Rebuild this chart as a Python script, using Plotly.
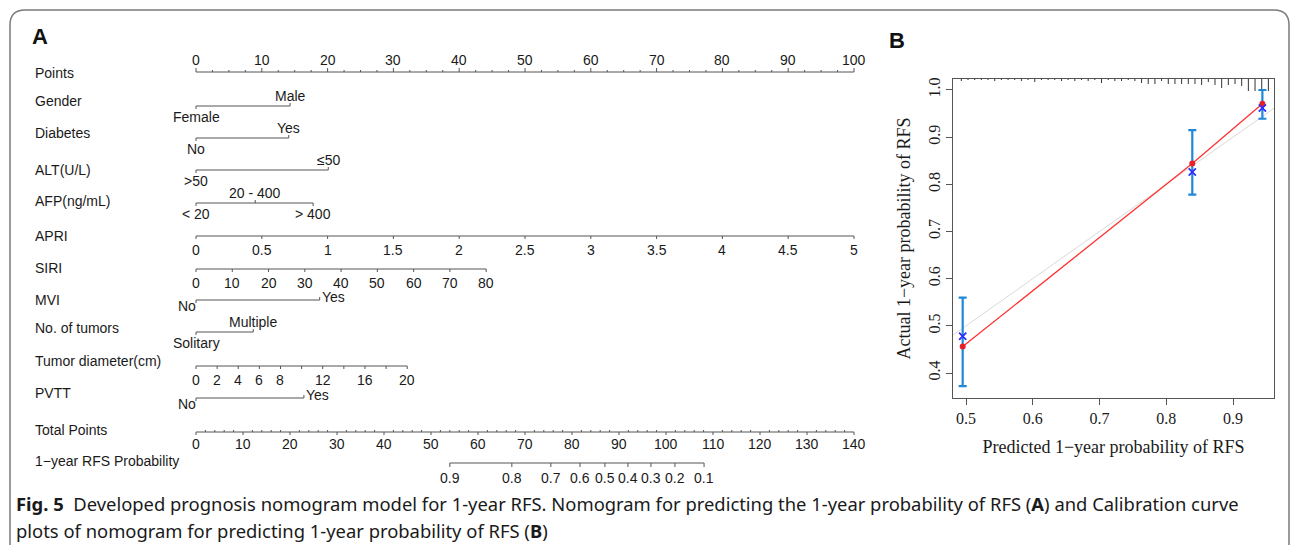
import plotly.graph_objects as go

W, H = 1295, 545

# ---------------- panel A: nomogram ----------------
points_ticks = [0, 10, 20, 30, 40, 50, 60, 70, 80, 90, 100]

gender_pts = [0, 14.3]
gender_lab = ["Female", "Male"]
diabetes_pts = [0, 14.1]
diabetes_lab = ["No", "Yes"]
alt_pts = [0, 20.1]
alt_lab = [">50", "≤50"]
afp_pts = [0, 9.0, 17.8]
afp_lab = ["< 20", "20 - 400", "> 400"]
apri_vals = [0, 0.5, 1, 1.5, 2, 2.5, 3, 3.5, 4, 4.5, 5]
apri_max, apri_max_pts = 5, 100
siri_vals = [0, 10, 20, 30, 40, 50, 60, 70, 80]
siri_max, siri_max_pts = 80, 44.1
mvi_pts = [0, 18.8]
mvi_lab = ["No", "Yes"]
tumors_pts = [0, 8.7]
tumors_lab = ["Solitary", "Multiple"]
diam_ticks = [0, 2, 4, 6, 8, 10, 12, 14, 16, 18, 20]
diam_labels = [0, 2, 4, 6, 8, 12, 16, 20]
diam_max, diam_max_pts = 20, 32.1
pvtt_pts = [0, 16.4]
pvtt_lab = ["No", "Yes"]
total_ticks = [0, 10, 20, 30, 40, 50, 60, 70, 80, 90, 100, 110, 120, 130, 140]
total_max = 140
rfs_prob = ["0.9", "0.8", "0.7", "0.6", "0.5", "0.4", "0.3", "0.2", "0.1"]
rfs_total = [54.0, 67.2, 75.5, 81.7, 87.0, 91.9, 96.8, 101.9, 108.1]

row_names = ["Points", "Gender", "Diabetes", "ALT(U/L)", "AFP(ng/mL)", "APRI", "SIRI", "MVI",
             "No. of tumors", "Tumor diameter(cm)", "PVTT", "Total Points", "1\u2212year RFS Probability"]
row_label_y = [73, 101, 133, 170, 201, 236, 268, 300, 328, 361, 393, 430, 461]
row_line_y = [72, 106, 138, 170, 203, 236, 269, 300, 332, 366, 398, 432, 463]

# ---------------- panel B: calibration ----------------
pred = [0.495, 0.839, 0.944]
obs = [0.456, 0.844, 0.971]
corrected = [0.478, 0.826, 0.962]
ci_hi = [0.560, 0.915, 1.000]
ci_lo = [0.372, 0.778, 0.939]
rug_x = [0.493, 0.503, 0.513, 0.523, 0.533, 0.543, 0.553, 0.563, 0.573, 0.583, 0.593, 0.603,
         0.613, 0.623, 0.633, 0.643, 0.653, 0.663, 0.673, 0.683, 0.693, 0.703, 0.713, 0.723,
         0.733, 0.743, 0.753, 0.763, 0.773, 0.783, 0.793, 0.803, 0.813, 0.823, 0.833, 0.843,
         0.853, 0.863, 0.873, 0.883, 0.893, 0.903, 0.913, 0.923, 0.933, 0.943, 0.953]
rug_n = [2, 1, 1, 1, 1, 2, 1, 1, 1, 2, 1, 3,
         1, 1, 1, 2, 1, 2, 1, 2, 1, 4, 1, 2,
         2, 1, 2, 4, 5, 5, 2, 5, 5, 5, 5, 5,
         6, 3, 6, 9, 6, 5, 7, 12, 12, 12, 12]

xr2 = [0.4805, 0.9614]
yr2 = [0.347, 1.0233]

TXT = dict(family="Liberation Sans, Arial", size=14, color="#1a1a1a")
SERIF_T = dict(family="Liberation Serif, Times New Roman", size=16, color="#1a1a1a")
SERIF = dict(family="Liberation Serif, Times New Roman", size=18, color="#1a1a1a")
LINE_C = "#555555"

fig = go.Figure()
annots = []


def seg_trace(xs, ys, color=LINE_C, width=1, xa="x", ya="y"):
    fig.add_trace(go.Scatter(x=xs, y=ys, mode="lines", line=dict(color=color, width=width),
                             xaxis=xa, yaxis=ya, hoverinfo="skip", showlegend=False))


def ticks(xs, y0, lens):
    X, Y = [], []
    for x, L in zip(xs, lens):
        X += [x, x, None]
        Y += [y0, y0 + L, None]
    seg_trace(X, Y)


def label(x, y, text, xanchor="center", xshift=0, font=TXT):
    annots.append(dict(x=x, y=y, xref="x", yref="y", text=text, showarrow=False,
                       xanchor=xanchor, yanchor="middle", xshift=xshift, font=font))


# row names
for name, ly in zip(row_names, row_label_y):
    annots.append(dict(x=33 / W, y=1 - ly / H, xref="paper", yref="paper", text=name,
                       showarrow=False, xanchor="left", yanchor="middle", font=TXT))

# Points axis
y = row_line_y[0]
seg_trace([0, 100], [y, y])
minor = [i * 2.5 for i in range(41)]
ticks(minor, y, [-4 if m % 10 == 0 else -2 for m in minor])
for t in points_ticks:
    label(t, y - 12, str(t))


def categorical(pts, labs, y, up_idx):
    seg_trace([min(pts), max(pts)], [y, y])
    ticks(pts, y, [-3 if i in up_idx else 3 for i in range(len(pts))])
    for i, (p, l) in enumerate(zip(pts, labs)):
        label(p, y - 10 if i in up_idx else y + 11, l)


categorical(gender_pts, gender_lab, row_line_y[1], [1])
categorical(diabetes_pts, diabetes_lab, row_line_y[2], [1])
categorical(alt_pts, alt_lab, row_line_y[3], [1])
categorical(afp_pts, afp_lab, row_line_y[4], [1])
categorical(tumors_pts, tumors_lab, row_line_y[8], [1])


def side_labels(pts, labs, y):
    seg_trace([pts[0], pts[1]], [y, y])
    ticks(pts, y, [3, -3])
    label(pts[0], y + 6, labs[0], xanchor="right", xshift=2)
    label(pts[1], y - 3, labs[1], xanchor="left", xshift=0)


side_labels(mvi_pts, mvi_lab, row_line_y[7])
side_labels(pvtt_pts, pvtt_lab, row_line_y[10])


def continuous(vals, vmax, pmax, y, shown=None, tick_vals=None):
    sc = pmax / vmax
    tv = tick_vals if tick_vals is not None else vals
    seg_trace([0, vmax * sc], [y, y])
    ticks([v * sc for v in tv], y, [3] * len(tv))
    for v in (shown if shown is not None else vals):
        label(v * sc, y + 14, f"{v:g}")


continuous(apri_vals, apri_max, apri_max_pts, row_line_y[5])
continuous(siri_vals, siri_max, siri_max_pts, row_line_y[6])
continuous(diam_ticks, diam_max, diam_max_pts, row_line_y[9], shown=diam_labels)

# Total points
y = row_line_y[11]
tsc = 100 / total_max
seg_trace([0, 100], [y, y])
tminor = [i * 2 for i in range(71) if (i * 2) % 10]
ticks([m * tsc for m in tminor], y, [-2] * len(tminor))
ticks([t * tsc for t in total_ticks], y, [3] * len(total_ticks))
for t in total_ticks:
    label(t * tsc, y + 12, str(t))

# probability
y = row_line_y[12]
seg_trace([rfs_total[0] * tsc, rfs_total[-1] * tsc], [y, y])
ticks([t * tsc for t in rfs_total], y, [4] * len(rfs_total))
for p, t in zip(rfs_prob, rfs_total):
    label(t * tsc, y + 15, p)

# panel letters
annots.append(dict(x=30 / W, y=1 - 37 / H, xref="paper", yref="paper", text="<b>A</b>", showarrow=False,
                   xanchor="left", yanchor="middle", font=dict(family="Liberation Sans, Arial", size=22, color="#111")))
annots.append(dict(x=887 / W, y=1 - 40 / H, xref="paper", yref="paper", text="<b>B</b>", showarrow=False,
                   xanchor="left", yanchor="middle", font=dict(family="Liberation Sans, Arial", size=22, color="#111")))

# ---- panel B traces ----
seg_trace(xr2, xr2, color="#d9d9d9", width=1, xa="x2", ya="y2")
RX, RY = [], []
ypx = (yr2[1] - yr2[0]) / (398 - 79)
for rx, n in zip(rug_x, rug_n):
    RX += [rx, rx, None]
    RY += [yr2[1], yr2[1] - n * ypx, None]
seg_trace(RX, RY, color="#333333", width=1, xa="x2", ya="y2")

fig.add_trace(go.Scatter(x=pred, y=obs, mode="lines", line=dict(color="#ff3030", width=1.3),
                         xaxis="x2", yaxis="y2", showlegend=False))
fig.add_trace(go.Scatter(
    x=pred, y=corrected, mode="markers",
    marker=dict(symbol="x-thin", size=7, line=dict(color="#3030ff", width=1.5)),
    error_y=dict(type="data", symmetric=False,
                 array=[h - c for h, c in zip(ci_hi, corrected)],
                 arrayminus=[c - l for c, l in zip(corrected, ci_lo)],
                 color="#1f88d8", thickness=2.2, width=4),
    xaxis="x2", yaxis="y2", showlegend=False))
fig.add_trace(go.Scatter(x=pred, y=obs, mode="markers", marker=dict(color="#e8202a", size=6),
                         xaxis="x2", yaxis="y2", showlegend=False))
fig.add_trace(go.Scatter(x=pred, y=corrected, mode="markers",
                         marker=dict(symbol="x-thin", size=7, line=dict(color="#3030ff", width=1.5)),
                         xaxis="x2", yaxis="y2", showlegend=False))

# caption
cap_font = dict(family="Noto Sans", size=18.4, color="#1a1a1a")
annots.append(dict(x=14 / W, y=1 - 503 / H, xref="paper", yref="paper", showarrow=False, xanchor="left",
                   yanchor="middle", font=cap_font,
                   text="<b>Fig. 5</b>  Developed prognosis nomogram model for 1-year RFS. Nomogram for predicting "
                        "the 1-year probability of RFS (<b>A</b>) and Calibration curve"))
annots.append(dict(x=14 / W, y=1 - 530 / H, xref="paper", yref="paper", showarrow=False, xanchor="left",
                   yanchor="middle", font=cap_font,
                   text="plots of nomogram for predicting 1-year probability of RFS (<b>B</b>)"))


def fx(px):
    return px / W


def fy(py):
    return 1 - py / H


r = 15
frame = (f"M {fx(10)},{fy(545)} L {fx(10)},{fy(10 + r)} Q {fx(10)},{fy(10)} {fx(10 + r)},{fy(10)} "
         f"L {fx(1289 - r)},{fy(10)} Q {fx(1289)},{fy(10)} {fx(1289)},{fy(10 + r)} L {fx(1289)},{fy(545)}")

fig.update_layout(
    width=W, height=H, margin=dict(l=0, r=0, t=0, b=0),
    paper_bgcolor="white", plot_bgcolor="white", showlegend=False,
    xaxis=dict(domain=[0, 1], range=[-196 / 6.58, (W - 196) / 6.58], visible=False, fixedrange=True),
    yaxis=dict(domain=[0, 1], range=[H, 0], visible=False, fixedrange=True),
    xaxis2=dict(domain=[953 / W, 1274 / W], range=xr2, anchor="y2",
                tickvals=[0.5, 0.6, 0.7, 0.8, 0.9], tickformat=".1f", ticks="outside", ticklen=6,
                tickcolor=LINE_C, showline=True, mirror=True, linecolor=LINE_C, linewidth=1.2,
                showgrid=False, zeroline=False, tickfont=SERIF_T,
                title=dict(text="Predicted 1\u2212year probability of RFS", font=SERIF, standoff=14)),
    yaxis2=dict(domain=[1 - 398 / H, 1 - 79 / H], range=yr2, anchor="x2",
                tickvals=[0.4, 0.5, 0.6, 0.7, 0.8, 0.9, 1.0], tickformat=".1f", ticks="outside", ticklen=6,
                tickcolor=LINE_C, tickangle=-90, showline=True, mirror=True, linecolor=LINE_C,
                linewidth=1.2, showgrid=False, zeroline=False, tickfont=SERIF_T,
                title=dict(text="Actual 1\u2212year probability of RFS", font=SERIF, standoff=10)),
    annotations=annots,
    shapes=[dict(type="path", path=frame, xref="paper", yref="paper",
                 line=dict(color="#7a7a7a", width=1.5))],
)

fig.write_html("out.html", config={"displayModeBar": False},
               post_script="document.body.style.margin='0px';")
